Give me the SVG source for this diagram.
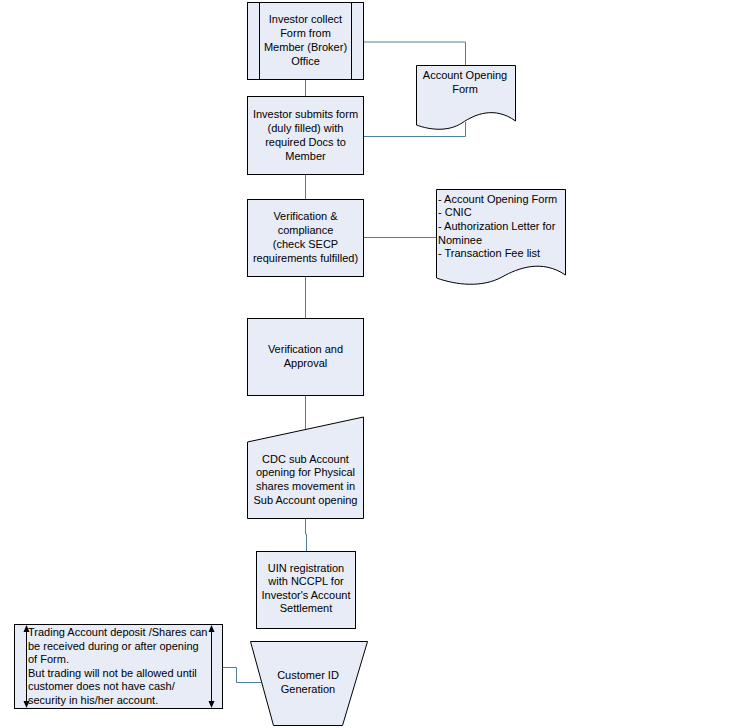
<svg xmlns="http://www.w3.org/2000/svg" width="745" height="728" viewBox="0 0 745 728">
<style>
.shape{fill:#e8ecf6;stroke:#000;stroke-width:1}
.ln{fill:none;stroke:#000;stroke-width:1}
.conn{fill:none;stroke:#4f7f9c;stroke-width:1}
text{font-family:"Liberation Sans",Arial,sans-serif;font-size:11px;fill:#000}
.c{text-anchor:middle}
</style>
<rect width="745" height="728" fill="#fff"/>
<g id="connectors">
<path class="conn" d="M305.5,79 V96"/>
<path class="conn" d="M363,42 H465.5 V65"/>
<path class="conn" d="M363,136.5 H465.5 V122"/>
<path class="conn" d="M305.5,174 V199"/>
<path class="conn" d="M363,237.5 H436"/>
<path class="conn" d="M305.5,276 V318"/>
<path class="conn" d="M305.5,395 V429"/>
<path class="conn" d="M305.5,518 V534 H306.5 V551"/>
<path class="conn" d="M223,667.5 H236.5 V682.5 H261"/>
</g>
<g id="n1">
<rect class="shape" x="247.5" y="2.5" width="116" height="77"/>
<path class="ln" d="M259.5,2.5 V79.5 M351.5,2.5 V79.5"/>
<text class="c" x="305.5" y="23">Investor collect</text>
<text class="c" x="305.5" y="37">Form from</text>
<text class="c" x="305.5" y="51">Member (Broker)</text>
<text class="c" x="305.5" y="65">Office</text>
</g>
<g id="doc1">
<path class="shape" d="M416.5,65.5 H515.5 V121 C495,106 475,114 462,123 C448,132 430,130 416.5,125 Z"/>
<text class="c" x="465" y="79">Account Opening</text>
<text class="c" x="465" y="93">Form</text>
</g>
<g id="n2">
<rect class="shape" x="247.5" y="96.5" width="116" height="78"/>
<text class="c" x="305.5" y="118">Investor submits form</text>
<text class="c" x="305.5" y="132">(duly filled) with</text>
<text class="c" x="305.5" y="146">required Docs to</text>
<text class="c" x="305.5" y="160">Member</text>
</g>
<g id="n3">
<rect class="shape" x="247.5" y="199.5" width="116" height="77"/>
<text class="c" x="305.5" y="220">Verification &amp;</text>
<text class="c" x="305.5" y="234">compliance</text>
<text class="c" x="305.5" y="248">(check SECP</text>
<text class="c" x="305.5" y="262">requirements fulfilled)</text>
</g>
<g id="doc2">
<path class="shape" d="M436.5,189.5 H565.5 V275 C542,259 518,268 502,277 C482,288 456,285 436.5,278 Z"/>
<text x="438" y="203">- Account Opening Form</text>
<text x="438" y="216">- CNIC</text>
<text x="438" y="230">- Authorization Letter for</text>
<text x="438" y="244">Nominee</text>
<text x="438" y="257">- Transaction Fee list</text>
</g>
<g id="n4">
<rect class="shape" x="247.5" y="318.5" width="116" height="77"/>
<text class="c" x="305.5" y="353">Verification and</text>
<text class="c" x="305.5" y="367">Approval</text>
</g>
<g id="n5">
<path class="shape" d="M247.5,442 L363.5,417 V518.5 H247.5 Z"/>
<text class="c" x="305.5" y="463">CDC sub Account</text>
<text class="c" x="305.5" y="476">opening for Physical</text>
<text class="c" x="305.5" y="490">shares movement in</text>
<text class="c" x="305.5" y="504">Sub Account opening</text>
</g>
<g id="n6">
<rect class="shape" x="256.5" y="551.5" width="99" height="77"/>
<text class="c" x="306" y="572">UIN registration</text>
<text class="c" x="306" y="585">with NCCPL for</text>
<text class="c" x="306" y="599">Investor's Account</text>
<text class="c" x="306" y="612">Settlement</text>
</g>
<g id="n7">
<path class="shape" d="M250.5,641.5 H367.5 L342.5,725.5 H273.5 Z"/>
<text class="c" x="308" y="679">Customer ID</text>
<text class="c" x="308" y="693">Generation</text>
</g>
<g id="note">
<rect class="shape" x="14.5" y="624.5" width="208" height="84"/>
<path class="ln" d="M26.5,628 V705 M211.5,628 V705"/>
<path d="M26.5,625 L23.5,632 H29.5 Z M26.5,708 L23.5,701 H29.5 Z M211.5,625 L208.5,632 H214.5 Z M211.5,708 L208.5,701 H214.5 Z" fill="#000"/>
<text x="28" y="636">Trading Account deposit /Shares can</text>
<text x="28" y="650">be received during or after opening</text>
<text x="28" y="663">of Form.</text>
<text x="28" y="677">But trading will not be allowed until</text>
<text x="28" y="690">customer does not have cash/</text>
<text x="28" y="704">security in his/her account.</text>
</g>
</svg>
